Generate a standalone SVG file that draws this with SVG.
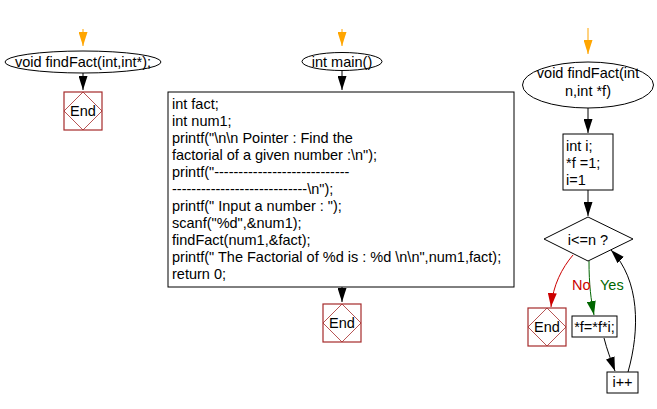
<svg xmlns="http://www.w3.org/2000/svg" width="657" height="409" viewBox="0 0 657 409">
<defs>
<style>
text{font-family:"Liberation Sans",Arial,sans-serif;font-size:14.5px;fill:#000}
.c{text-anchor:middle}
.shape{fill:#fff;stroke:#000;stroke-width:1}
.endbox{fill:#fff;stroke:#a52a2a;stroke-width:1.2}
.enddia{fill:none;stroke:#a52a2a;stroke-width:0.8}
.ln{fill:none;stroke-width:1}
</style>
<marker id="ao" viewBox="0 0 14 9" refX="14" refY="4.5" markerWidth="14" markerHeight="9" markerUnits="userSpaceOnUse" orient="auto"><path d="M0,0 L14,4.5 L0,9 z" fill="#ffa500"/></marker>
<marker id="ab" viewBox="0 0 14 9" refX="14" refY="4.5" markerWidth="14" markerHeight="9" markerUnits="userSpaceOnUse" orient="auto"><path d="M0,0 L14,4.5 L0,9 z" fill="#000"/></marker>
<marker id="ar" viewBox="0 0 14 9" refX="14" refY="4.5" markerWidth="14" markerHeight="9" markerUnits="userSpaceOnUse" orient="auto"><path d="M0,0 L14,4.5 L0,9 z" fill="#cc0000"/></marker>
<marker id="ag" viewBox="0 0 14 9" refX="14" refY="4.5" markerWidth="14" markerHeight="9" markerUnits="userSpaceOnUse" orient="auto"><path d="M0,0 L14,4.5 L0,9 z" fill="#006600"/></marker>
</defs>
<rect width="657" height="409" fill="#fff"/>

<g id="connectors">
<line class="ln" x1="83" y1="29" x2="83" y2="46" stroke="#ffa500" marker-end="url(#ao)"/>
<line class="ln" x1="83" y1="73" x2="83" y2="90" stroke="#000" marker-end="url(#ab)"/>
<line class="ln" x1="342" y1="29" x2="342" y2="46" stroke="#ffa500" marker-end="url(#ao)"/>
<line class="ln" x1="342" y1="70" x2="342" y2="90" stroke="#000" marker-end="url(#ab)"/>
<line class="ln" x1="342" y1="287" x2="342" y2="302" stroke="#000" marker-end="url(#ab)"/>
<line class="ln" x1="588" y1="28" x2="588" y2="54" stroke="#ffa500" marker-end="url(#ao)"/>
<line class="ln" x1="588" y1="108" x2="588" y2="133" stroke="#000" marker-end="url(#ab)"/>
<line class="ln" x1="588" y1="190" x2="588" y2="216" stroke="#000" marker-end="url(#ab)"/>
<path class="ln" d="M573,255 C562,268 553,285 551,307" stroke="#cc0000" marker-end="url(#ar)"/>
<path class="ln" d="M589,261 C589,285 591,300 594,315" stroke="#006600" marker-end="url(#ag)"/>
<path class="ln" d="M604,338 C607,350 611,360 615,371" stroke="#000" marker-end="url(#ab)"/>
<path class="ln" d="M628,372 C640,330 640,280 611,250" stroke="#000" marker-end="url(#ab)"/>
</g>

<g id="decl">
<ellipse class="shape" cx="83" cy="62" rx="78" ry="11"/>
<text class="c" x="83" y="67">void findFact(int,int*);</text>
</g>
<g id="end1">
<rect class="endbox" x="64" y="92" width="38" height="38"/>
<path class="enddia" d="M83,92 L102,111 L83,130 L64,111 Z"/>
<text class="c" x="83" y="116">End</text>
</g>

<g id="main">
<ellipse class="shape" cx="342" cy="61.5" rx="40" ry="9"/>
<text class="c" x="342" y="66.5">int main()</text>
</g>
<g id="body">
<rect class="shape" x="168" y="92" width="346" height="195"/>
<text x="172" y="109">int fact;</text>
<text x="172" y="126">int num1;</text>
<text x="172" y="143">printf("\n\n Pointer : Find the</text>
<text x="172" y="160">factorial of a given number :\n");</text>
<text x="172" y="177">printf("----------------------------</text>
<text x="172" y="194">----------------------------\n");</text>
<text x="172" y="211">printf(" Input a number : ");</text>
<text x="172" y="228">scanf("%d",&amp;num1);</text>
<text x="172" y="245">findFact(num1,&amp;fact);</text>
<text x="172" y="262">printf(" The Factorial of %d is : %d \n\n",num1,fact);</text>
<text x="172" y="279">return 0;</text>
</g>
<g id="end2">
<rect class="endbox" x="323" y="304" width="38" height="38"/>
<path class="enddia" d="M342,304 L361,323 L342,342 L323,323 Z"/>
<text class="c" x="342" y="328">End</text>
</g>

<g id="func">
<ellipse class="shape" cx="588" cy="85" rx="65.5" ry="23"/>
<text class="c" x="588" y="78">void findFact(int</text>
<text class="c" x="588" y="96">n,int *f)</text>
</g>
<g id="init">
<rect class="shape" x="563" y="134" width="50" height="56"/>
<text x="566" y="151">int i;</text>
<text x="566" y="168">*f =1;</text>
<text x="566" y="185">i=1</text>
</g>
<g id="cond">
<path class="shape" d="M588,217 L633,239 L588,261 L544,239 Z"/>
<text class="c" x="588" y="245">i&lt;=n ?</text>
</g>
<text x="572" y="290" style="fill:#cc0000">No</text>
<text x="600" y="290" style="fill:#006600">Yes</text>
<g id="end3">
<rect class="endbox" x="528" y="308" width="38" height="38"/>
<path class="enddia" d="M547,308 L566,327 L547,346 L528,327 Z"/>
<text class="c" x="547" y="332">End</text>
</g>
<g id="mult">
<rect class="shape" x="572" y="316" width="45" height="21"/>
<text class="c" x="594.5" y="331.5">*f=*f*i;</text>
</g>
<g id="inc">
<rect class="shape" x="607" y="372" width="31" height="21"/>
<text class="c" x="622.5" y="387">i++</text>
</g>
</svg>
